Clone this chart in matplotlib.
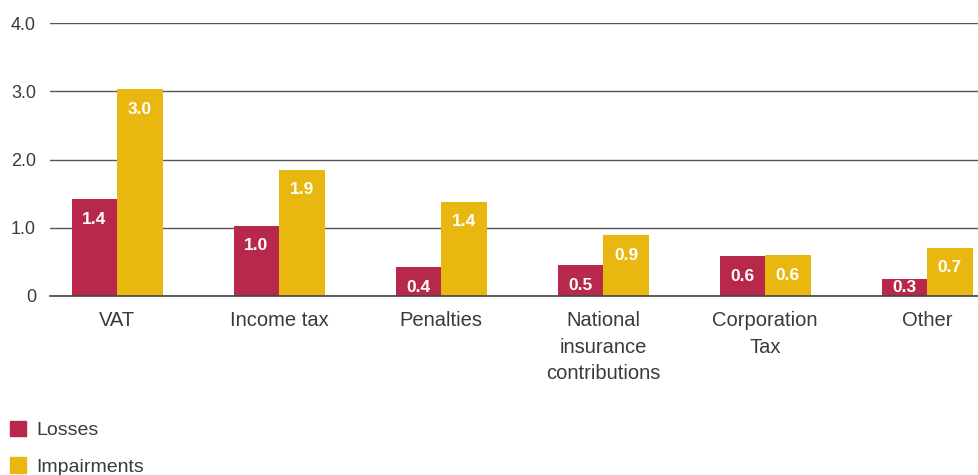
import numpy as np
import matplotlib.pyplot as plt
from matplotlib.patches import Patch

plt.rcParams['font.family'] = ['Liberation Sans', 'DejaVu Sans']

categories = ['VAT', 'Income tax', 'Penalties', 'National\ninsurance\ncontributions',
              'Corporation\nTax', 'Other']
losses = [1.42, 1.03, 0.42, 0.45, 0.58, 0.25]
impairments = [3.03, 1.85, 1.38, 0.89, 0.60, 0.71]
losses_labels = ['1.4', '1.0', '0.4', '0.5', '0.6', '0.3']
impairments_labels = ['3.0', '1.9', '1.4', '0.9', '0.6', '0.7']

red = '#B8284B'
yellow = '#E8B810'
text_col = '#3a3a3a'

fig = plt.figure(figsize=(9.79, 4.75), dpi=100)
ax = fig.add_axes([50 / 979, (475 - 296) / 475, 1 - 50 / 979, (296 - 23) / 475])

x = np.arange(len(categories))
w = 0.281
b1 = ax.bar(x - w / 2, losses, w, color=red, zorder=3)
b2 = ax.bar(x + w / 2, impairments, w, color=yellow, zorder=3)

# value labels inside the bar tops, kept above the baseline for small bars
for xs, vals, labs in [(x - w / 2, losses, losses_labels), (x + w / 2, impairments, impairments_labels)]:
    for xi, v, lab in zip(xs, vals, labs):
        y = max(v - 0.293, 0.125)
        ax.text(xi, y, lab, ha='center', va='center', color='white',
                fontsize=12.5, fontweight='bold', zorder=4)

ax.set_xlim(-0.415, 5.32)
ax.set_ylim(0, 4)
ax.set_yticks([0, 1, 2, 3, 4])
ax.set_yticklabels(['0', '1.0', '2.0', '3.0', '4.0'])
ax.set_xticks(x)
ax.set_xticklabels(categories)
for t in ax.get_xticklabels():
    t.set_linespacing(1.5)

ax.grid(axis='y', color='#555555', linewidth=1.0, zorder=0)
ax.grid(axis='x', visible=False)
ax.axhline(0, color='#444444', linewidth=1.2, zorder=5, clip_on=False)
for s in ax.spines.values():
    s.set_visible(False)
ax.tick_params(axis='both', length=0, colors=text_col)
ax.tick_params(axis='y', labelsize=13, pad=10)
ax.tick_params(axis='x', labelsize=14.5, pad=11)

handles = [Patch(color=red, label='Losses'), Patch(color=yellow, label='Impairments')]
leg = fig.legend(handles=handles, loc='upper left', bbox_to_anchor=(10 / 979, 0.1145),
                 frameon=False, fontsize=14, handlelength=0.82, handleheight=0.82,
                 handletextpad=0.55, labelspacing=0.95, borderpad=0, borderaxespad=0)
for t in leg.get_texts():
    t.set_color(text_col)

fig.savefig('out.png', dpi=100)
